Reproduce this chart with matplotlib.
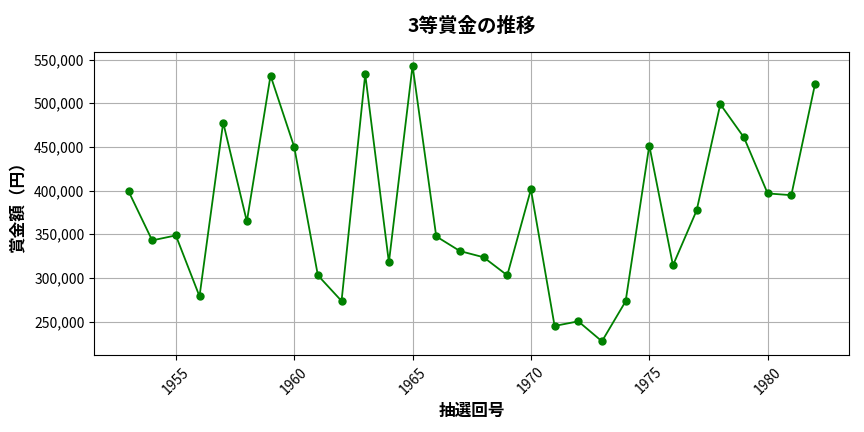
import matplotlib
matplotlib.use("Agg")
import matplotlib.pyplot as plt
from matplotlib.ticker import FuncFormatter

plt.rcParams['font.family'] = ['Noto Sans CJK JP', 'DejaVu Sans']

# 抽選回号 and 3等賞金
draws = list(range(1953, 1983))
prize = [399300, 342900, 348600, 278800, 477900, 364600, 531700, 450000,
         302900, 273500, 533200, 317700, 543100, 347500, 330700, 323600,
         302900, 401300, 244900, 250200, 227300, 273100, 451600, 314300,
         377200, 498900, 460800, 396700, 394700, 521700]

fig, ax = plt.subplots(figsize=(8.64, 4.32), dpi=100)
ax.plot(draws, prize, marker='o', color='green', markersize=5, linewidth=1.3)

ax.set_title('3等賞金の推移', fontsize=14, fontweight='bold', pad=14)
ax.set_xlabel('抽選回号', fontsize=12, fontweight='bold', labelpad=4)
ax.set_ylabel('賞金額（円）', fontsize=12, fontweight='bold', labelpad=5)
ax.yaxis.set_major_formatter(FuncFormatter(lambda v, p: f'{int(v):,}'))
ax.tick_params(axis='x', labelrotation=45, labelsize=10)
ax.tick_params(axis='y', labelsize=10)
ax.grid(True, color='#b0b0b0', linewidth=0.8)

fig.subplots_adjust(left=0.109, right=0.983, top=0.88, bottom=0.178)
fig.savefig('out.png', dpi=100)
